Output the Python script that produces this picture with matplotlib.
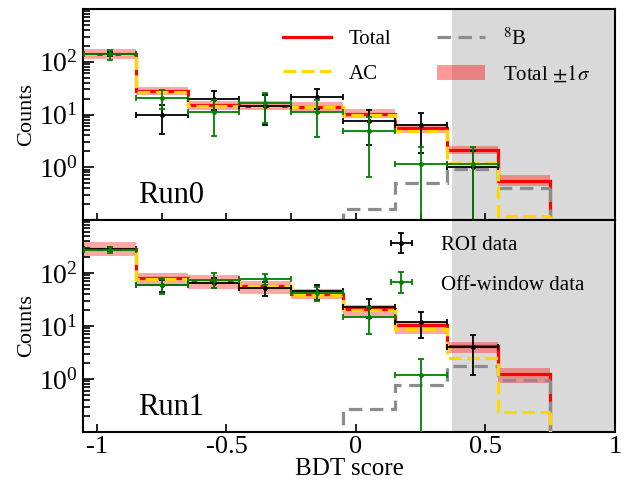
import numpy as np
import matplotlib
matplotlib.use('Agg')
import matplotlib.pyplot as plt
from matplotlib.patches import Patch
from matplotlib.lines import Line2D
from matplotlib.ticker import LogLocator, NullFormatter

plt.rcParams.update({
    'font.family': 'serif',
    'font.serif': ['Liberation Serif', 'DejaVu Serif'],
    'mathtext.fontset': 'stix',
    'axes.unicode_minus': False,
})

# ---------------- data ----------------
edges = [-1.05, -0.85, -0.65, -0.45, -0.25, -0.05, 0.15, 0.35, 0.55, 0.75]
centers = [-0.95, -0.75, -0.55, -0.35, -0.15, 0.05, 0.25, 0.45, 0.65]

# Run0
total0 = [140, 27.5, 15, 14.8, 14, 10.2, 5.6, 2.15, 0.55]
lo0 = [112, 23.5, 12, 12, 11.5, 8.6, 4.5, 1.76, 0.44]
hi0 = [172, 33, 18, 18, 17.5, 12.8, 6.6, 2.55, 0.71]
ac0 = [138, 27, 14.5, 14.5, 13.8, 10, 4.9, 1.19, 0.12]
b8_0 = [0, 0, 0, 0, 0, 0.16, 0.5, 0.93, 0.41]
roi0 = [140, 9.6, 20, 14.8, 21.4, 7.4, 6.2, 1.0, 0]
roi0_err = [12, 5.3, 8, 8.4, 8.5, 4.8, 4.3, 1.0, 0]
off0 = [138, 21, 11.2, 16.3, 11.2, 4.85, 1.17, 1.17, 0]
off0_err = [28, 8.5, 7.3, 9.5, 7.5, 4.2, 1.2, 1.2, 0]

# Run1
total1 = [285, 79, 70, 57, 40, 20.5, 10.4, 4.2, 1.22]
lo1 = [212, 59, 49, 41, 33, 15, 7.1, 3.13, 0.85]
hi1 = [380, 101, 91, 72, 49, 25, 12.1, 5.05, 1.59]
ac1 = [283, 78, 69, 56, 39, 20, 8.7, 2.52, 0.235]
b8_1 = [0, 0, 0, 0, 0, 0.27, 0.76, 1.76, 0.96]
roi1 = [280, 59, 66, 51.6, 45, 23.2, 12.1, 4.0, 0]
roi1_err = [25, 15, 15, 15, 14, 9, 6.2, 2.8, 0]
off1 = [275, 59, 75, 77, 42.5, 15, 1.17, 0, 0]
off1_err = [40, 18, 23, 18, 13, 8, 1.2, 0, 0]

runs = ['Run0', 'Run1']
shade_start = 0.37

xticks_bottom = [-1, -0.5, 0, 0.5, 1]
xtick_labels = ['-1', '-0.5', '0', '0.5', '1']

# ---------------- figure ----------------
W, H = 626, 487
fig = plt.figure(figsize=(W / 100, H / 100), dpi=100)
L, R = 83, 615
ax0 = fig.add_axes([L / W, 1 - 220 / H, (R - L) / W, 211 / H])
ax1 = fig.add_axes([L / W, 1 - 432 / H, (R - L) / W, 212 / H])

floor = 1e-3
dash_ac = (0, (4, 1.7))
dash_b8 = (0, (4.2, 2.4))
lw = 2.3


def hist_line(ax, vals, **kw):
    v = np.clip(np.asarray(vals, float), floor, None)
    ax.stairs(v, edges, baseline=None, **kw)
    # closing drop at the last edge down to the floor
    ax.plot([edges[-1], edges[-1]], [v[-1], floor], **kw)


def panel(ax, total, lo, hi, ac, b8, roi, roi_err, off, off_err, name):
    ax.axvspan(shade_start, 1.0, color='#d9d9d9', lw=0, zorder=0)
    ax.stairs(hi, edges, baseline=lo, fill=True, color='red', alpha=0.35, lw=0, zorder=1)
    hist_line(ax, total, color='red', lw=lw, zorder=2)
    hist_line(ax, b8, color='#8c8c8c', lw=lw, linestyle=dash_b8, zorder=3)
    hist_line(ax, ac, color='#ffd700', lw=lw, linestyle=dash_ac, zorder=4)
    c = np.array(centers)
    r = np.array(roi, float); re = np.array(roi_err, float)
    o = np.array(off, float); oe = np.array(off_err, float)
    m = r > 0
    eb_r = ax.errorbar(c[m], r[m], xerr=0.1, yerr=re[m], fmt='.', color='black', ms=5,
                       lw=1.3, capsize=2.5, capthick=1.3, zorder=5)
    m = o > 0
    eb_o = ax.errorbar(c[m], o[m], xerr=0.1, yerr=oe[m], fmt='.', color='green', ms=5,
                       lw=1.3, capsize=2.5, capthick=1.3, zorder=6)
    ax.set_yscale('log')
    ax.set_ylim(0.1, 1000)
    ax.set_xlim(-1.054, 1.0)
    ax.set_yticks([1, 10, 100])
    ax.yaxis.set_minor_locator(LogLocator(base=10, subs=np.arange(2, 10), numticks=20))
    ax.yaxis.set_minor_formatter(NullFormatter())
    ax.tick_params(axis='both', which='both', direction='in', right=False, top=False,
                   labelsize=20, width=1.2)
    ax.tick_params(axis='y', which='major', length=8)
    ax.tick_params(axis='y', which='minor', length=5)
    ax.tick_params(axis='x', which='major', length=5)
    for s in ax.spines.values():
        s.set_linewidth(1.5)
    ax.set_ylabel('Counts', fontsize=16, labelpad=2)
    ax.text(0.103, 0.08, name, transform=ax.transAxes, fontsize=22, va='baseline')
    return eb_r, eb_o


panel(ax0, total0, lo0, hi0, ac0, b8_0, roi0, roi0_err, off0, off0_err, runs[0])
eb_r, eb_o = panel(ax1, total1, lo1, hi1, ac1, b8_1, roi1, roi1_err, off1, off1_err, runs[1])

ax0.set_xticks(np.arange(-1, 1.01, 0.25))
ax0.tick_params(axis='x', labelbottom=False)
ax1.set_xticks(xticks_bottom)
ax1.set_xticklabels(xtick_labels)
ax1.tick_params(axis='x', length=6, pad=3, labelsize=19)
ax1.set_xlabel('BDT score', fontsize=18, labelpad=0)

handles = [Line2D([], [], color='red', lw=lw),
           Line2D([], [], color='#ffd700', lw=lw, linestyle=dash_ac),
           Line2D([], [], color='#8c8c8c', lw=lw, linestyle=dash_b8),
           Patch(facecolor='red', alpha=0.4, lw=0)]
labels = ['Total', 'AC', r'$^{8}$B', r'Total $\pm1\sigma$']
ax0.legend(handles, labels, ncol=2, frameon=False, fontsize=15, loc='upper left',
           bbox_to_anchor=(0.376, 0.91), borderpad=0, borderaxespad=0,
           handlelength=2.3, handletextpad=0.85, columnspacing=2.2, labelspacing=0.7)

ax1.legend([eb_r, eb_o], ['ROI data', 'Off-window data'], frameon=False, fontsize=15,
           loc='upper left', bbox_to_anchor=(0.575, 0.926), borderpad=0, borderaxespad=0,
           handlelength=1.2, handletextpad=1.3, labelspacing=0.95)

fig.savefig('out.png', dpi=100)
